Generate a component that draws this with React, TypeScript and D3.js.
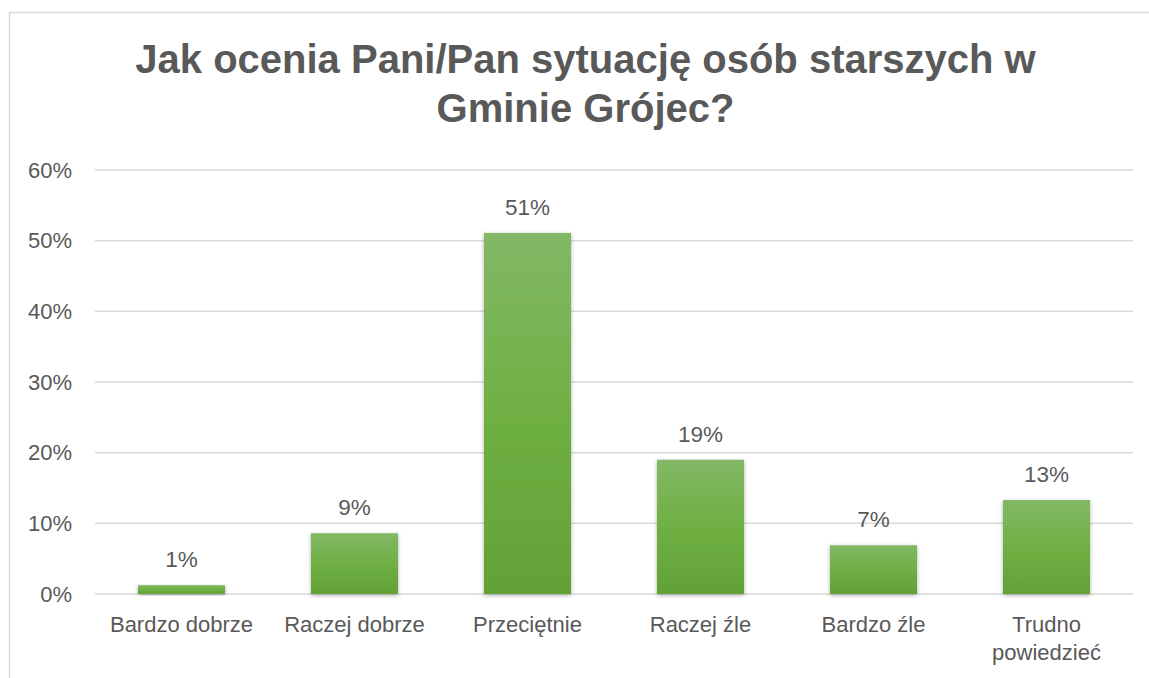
import React from "react";
import * as d3 from "d3";

const categories = ["Bardzo dobrze", "Raczej dobrze", "Przeciętnie", "Raczej źle", "Bardzo źle", "Trudno powiedzieć"];
const values = [1.25, 8.6, 51.1, 19.0, 6.9, 13.3];
const valueLabels = ["1%", "9%", "51%", "19%", "7%", "13%"];
const yTicks = [0, 10, 20, 30, 40, 50, 60];
const titleLines = ["Jak ocenia Pani/Pan sytuację osób starszych w", "Gminie Grójec?"];

const W = 1149;
const H = 678;
const plot = { left: 95, right: 1133, top: 170, bottom: 594 };
const textColor = "#595959";
const font = "'Liberation Sans', Arial, sans-serif";

export default function App() {
  const x = d3.scaleBand<string>().domain(categories).range([plot.left, plot.right]).paddingInner(0.497).paddingOuter(0.2485);
  const y = d3.scaleLinear().domain([0, 60]).range([plot.bottom, plot.top]);

  const labelLines = (c: string) => (c === "Trudno powiedzieć" ? ["Trudno", "powiedzieć"] : [c]);

  return (
    <svg width={W} height={H} style={{ position: "absolute", left: 0, top: 0, background: "#fff" }} fontFamily={font}>
      <defs>
        <linearGradient id="barGrad" x1="0" y1="0" x2="0" y2="1">
          <stop offset="0%" stopColor="#82b866" />
          <stop offset="50%" stopColor="#6fb043" />
          <stop offset="100%" stopColor="#62a136" />
        </linearGradient>
        <filter id="shadow" x="-20%" y="-10%" width="140%" height="130%">
          <feDropShadow dx="0" dy="1.5" stdDeviation="2" floodColor="#000" floodOpacity="0.3" />
        </filter>
      </defs>
      <rect x={9.5} y={12.5} width={W + 10} height={H + 10} fill="#fff" stroke="#d9d9d9" strokeWidth={1.5} />
      <g textAnchor="middle" fontWeight="bold" fontSize={40} fill={textColor}>
        {titleLines.map((t, i) => (
          <text key={i} x={585.5} y={73 + i * 49}>{t}</text>
        ))}
      </g>
      <g>
        {yTicks.map((t) => (
          <g key={t}>
            <line x1={plot.left} x2={plot.right} y1={y(t)} y2={y(t)} stroke="#d9d9d9" strokeWidth={1.5} />
            <text x={72} y={y(t) + 7.5} textAnchor="end" fontSize={22} fill={textColor}>{t}%</text>
          </g>
        ))}
      </g>
      <g>
        {categories.map((c, i) => (
          <rect key={c} x={x(c)} y={y(values[i])} width={x.bandwidth()} height={y(0) - y(values[i])} fill="url(#barGrad)" filter="url(#shadow)" />
        ))}
      </g>
      <g textAnchor="middle" fontSize={22.5} fill={textColor}>
        {categories.map((c, i) => (
          <text key={c} x={(x(c) as number) + x.bandwidth() / 2} y={y(values[i]) - 18}>{valueLabels[i]}</text>
        ))}
      </g>
      <g textAnchor="middle" fontSize={22} fill={textColor}>
        {categories.map((c) => (
          <text key={c} x={(x(c) as number) + x.bandwidth() / 2} y={632}>
            {labelLines(c).map((l, j) => (
              <tspan key={j} x={(x(c) as number) + x.bandwidth() / 2} dy={j === 0 ? 0 : 28}>{l}</tspan>
            ))}
          </text>
        ))}
      </g>
    </svg>
  );
}
